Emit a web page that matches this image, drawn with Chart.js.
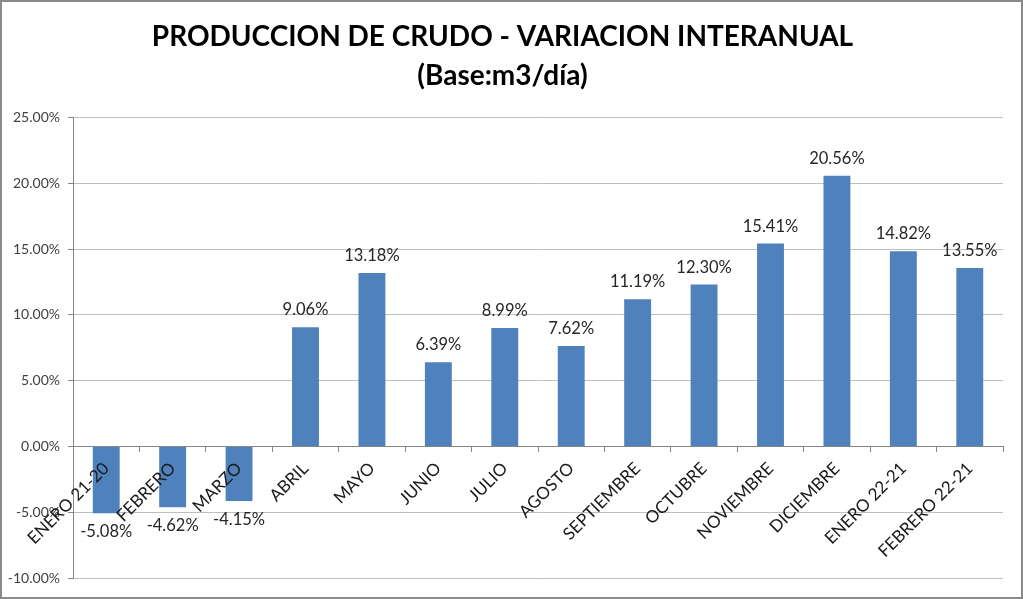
<!DOCTYPE html>
<html>
<head>
<meta charset="utf-8">
<script src="https://cdn.jsdelivr.net/npm/chart.js@4.4.1/dist/chart.umd.min.js"></script>
<style>
  html, body { margin: 0; padding: 0; background: #fff; }
  #frame { width: 1023px; height: 599px; box-sizing: border-box; border: 2px solid #8a8a8a; }
  canvas { display: block; }
</style>
</head>
<body>
<div id="frame"><canvas id="crudoChart" width="1019" height="595"></canvas></div>
<script>
// Datos: variacion interanual de produccion de crudo (%)
const meses = ['ENERO 21-20', 'FEBRERO', 'MARZO', 'ABRIL', 'MAYO', 'JUNIO', 'JULIO',
    'AGOSTO', 'SEPTIEMBRE', 'OCTUBRE', 'NOVIEMBRE', 'DICIEMBRE', 'ENERO 22-21', 'FEBRERO 22-21'];
const variacion = [-5.08, -4.62, -4.15, 9.06, 13.18, 6.39, 8.99, 7.62, 11.19, 12.30, 15.41, 20.56, 14.82, 13.55];
const yTicks = [-10, -5, 0, 5, 10, 15, 20, 25];

const fontName = 'Lato, "DejaVu Sans", sans-serif';

// etiquetas de valor sobre / bajo cada barra
const valueLabels = {
    id: 'valueLabels',
    afterDatasetsDraw(chart) {
        const ctx = chart.ctx;
        const meta = chart.getDatasetMeta(0);
        ctx.save();
        ctx.font = '16.5px ' + fontName;
        ctx.fillStyle = '#262626';
        ctx.textAlign = 'center';
        meta.data.forEach((bar, i) => {
            const v = variacion[i];
            const txt = v.toFixed(2) + '%';
            if (v >= 0) {
                ctx.textBaseline = 'bottom';
                ctx.fillText(txt, bar.x, bar.y - 9);
            } else {
                ctx.textBaseline = 'top';
                ctx.fillText(txt, bar.x, bar.y + 10);
            }
        });
        ctx.restore();
    }
};

new Chart(document.getElementById('crudoChart').getContext('2d'), {
    type: 'bar',
    data: {
        labels: meses,
        datasets: [{
            label: 'Variacion interanual',
            data: variacion,
            backgroundColor: '#4F81BD',
            borderWidth: 0,
            barPercentage: 0.9,
            categoryPercentage: 0.45,
        }],
    },
    options: {
        responsive: false,
        animation: false,
        layout: { padding: { left: 0, right: 18, top: 0, bottom: 19 } },
        plugins: {
            legend: { display: false },
            tooltip: { enabled: false },
            title: {
                display: true,
                text: ['PRODUCCION DE CRUDO - VARIACION INTERANUAL', '(Base:m3/día)'],
                color: '#000',
                font: { family: fontName, size: 28, weight: 'bold', lineHeight: 1.4 },
                padding: { top: 15, bottom: 22 },
            },
        },
        scales: {
            x: {
                position: { y: 0 },
                afterFit(scale) { scale.height = 0; },
                border: { color: '#868686', width: 1 },
                grid: { display: true, drawOnChartArea: false, tickLength: 5, color: '#868686' },
                ticks: {
                    z: 1,
                    autoSkip: false, maxRotation: 45, minRotation: 45, padding: 7,
                    color: '#1a1a1a', font: { family: fontName, size: 17 },
                },
            },
            y: {
                min: -10,
                max: 25,
                afterFit(scale) { scale.width = 71; },
                afterBuildTicks(scale) { scale.ticks = yTicks.map(v => ({ value: v })); },
                border: { color: '#868686', width: 1 },
                grid: { color: '#bfbfbf', tickLength: 5, tickColor: '#868686' },
                ticks: {
                    padding: 8,
                    color: '#404040',
                    font: { family: fontName, size: 14 },
                    callback: v => v.toFixed(2) + '%',
                },
            },
        },
    },
    plugins: [valueLabels],
});
</script>
</body>
</html>
